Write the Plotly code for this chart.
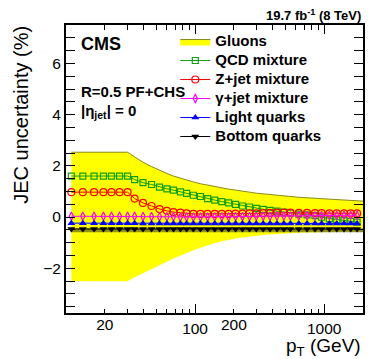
import plotly.graph_objects as go

# ---------------- data ----------------
pt = [11, 13.5, 16.5, 19.5, 22.5, 26, 30, 34, 39.5, 46, 53, 60.5, 68, 77, 86, 97,
      110, 125, 142, 161, 182, 206, 233, 264, 298, 337, 381, 431, 487, 548,
      636, 737, 849, 956, 1098, 1252, 1425, 1605, 1800]

qcd = [1.6, 1.6, 1.6, 1.6, 1.6, 1.6, 1.6, 1.46, 1.34, 1.27, 1.17, 1.10, 1.05, 0.98, 0.92, 0.85,
       0.80, 0.72, 0.66, 0.60, 0.55, 0.49, 0.43, 0.39, 0.34, 0.30, 0.26, 0.23, 0.19, 0.15,
       0.11, 0.08, 0.05, -0.01, -0.06, -0.10, -0.14, -0.17, -0.20]

zjet = [0.97, 0.97, 0.97, 0.97, 0.97, 0.97, 0.97, 0.72, 0.55, 0.43, 0.31, 0.24, 0.19, 0.17, 0.14, 0.12,
        0.12, 0.12, 0.12, 0.12, 0.12, 0.13, 0.13, 0.14, 0.14, 0.15, 0.16, 0.17, 0.17, 0.17,
        0.16, 0.16, 0.15, 0.15, 0.14, 0.14, 0.14, 0.14, 0.14]

gjet = [0.03, 0.03, 0.03, 0.03, 0.03, 0.03, 0.03, 0.03, 0.02, 0.02, 0.01, 0.01, 0.01, 0.0, 0.0, 0.0,
        0.0, 0.0, 0.01, 0.01, 0.01, 0.02, 0.02, 0.02, 0.03, 0.03, 0.03, 0.04, 0.04, 0.04,
        0.05, 0.05, 0.05, 0.06, 0.06, 0.06, 0.07, 0.07, 0.07]

light = [-0.24, -0.24, -0.24, -0.24, -0.24, -0.24, -0.24, -0.24, -0.25, -0.25, -0.25, -0.25, -0.25, -0.25, -0.25, -0.25,
         -0.25, -0.25, -0.25, -0.25, -0.25, -0.25, -0.25, -0.25, -0.25, -0.25, -0.25, -0.25, -0.25, -0.25,
         -0.25, -0.25, -0.25, -0.25, -0.25, -0.25, -0.25, -0.25, -0.25]

bottom = [-0.47] * 39

band_pt = [11, 30, 34, 39.5, 46, 53, 60.5, 68, 77, 86, 97, 110, 125, 142, 161, 182, 206, 233,
           264, 298, 337, 381, 431, 487, 548, 636, 737, 849, 956, 1098, 1252, 1425, 1605, 1800, 2000]
band_up = [2.53, 2.53, 2.35, 2.14, 1.97, 1.82, 1.70, 1.60, 1.51, 1.44, 1.37, 1.30, 1.24, 1.18, 1.13, 1.09,
           1.05, 1.02, 0.97, 0.93, 0.90, 0.87, 0.85, 0.82, 0.80, 0.77, 0.75, 0.73, 0.71, 0.69,
           0.67, 0.66, 0.64, 0.63, 0.62]
band_lo = [-2.51, -2.51, -2.35, -2.20, -2.05, -1.90, -1.75, -1.62, -1.50, -1.40, -1.30, -1.20, -1.10, -1.02,
           -0.95, -0.89, -0.84, -0.80, -0.76, -0.73, -0.70, -0.68, -0.66, -0.64, -0.63, -0.62, -0.61,
           -0.60, -0.60, -0.59, -0.59, -0.58, -0.58, -0.58, -0.58]
gluon_line = [-0.52] * 35

FONT = "Liberation Sans, Arial, Helvetica, sans-serif"


def lg(s):
    return "<span style='font-size:15px'><b>" + s + "</b></span>"


fig = go.Figure()

# gluon band
fig.add_trace(go.Scatter(x=band_pt, y=band_lo, mode="lines", line=dict(width=0, color="#ffff00"),
                         showlegend=False, hoverinfo="skip"))
fig.add_trace(go.Scatter(x=band_pt, y=band_up, mode="lines", fill="tonexty", fillcolor="#ffff00",
                         line=dict(width=1, color="#8a8a1a"), name=lg("Gluons")))
fig.add_trace(go.Scatter(x=band_pt, y=gluon_line, mode="lines",
                         line=dict(width=4, color="rgba(110,110,20,0.75)"), showlegend=False))

fig.add_trace(go.Scatter(x=pt, y=qcd, mode="lines+markers", name=lg("QCD mixture"),
                         line=dict(color="#11a011", width=1),
                         marker=dict(symbol="square-open", size=6, color="#11a011", line=dict(width=1.2))))
fig.add_trace(go.Scatter(x=pt, y=zjet, mode="lines+markers", name=lg("Z+jet mixture"),
                         line=dict(color="#ff0000", width=1),
                         marker=dict(symbol="circle-open", size=7, color="#ff0000", line=dict(width=1.2))))
fig.add_trace(go.Scatter(x=pt, y=gjet, mode="lines+markers", name=lg("\u03b3+jet mixture"),
                         line=dict(color="#ff00ff", width=1),
                         marker=dict(symbol="diamond-tall-open", size=6, color="#ff00ff", line=dict(width=1.2))))
fig.add_trace(go.Scatter(x=pt, y=light, mode="lines+markers", name=lg("Light quarks"),
                         line=dict(color="#0000ff", width=1),
                         marker=dict(symbol="triangle-up", size=7, color="#0000ff")))
fig.add_trace(go.Scatter(x=pt, y=bottom, mode="lines+markers", name=lg("Bottom quarks"),
                         line=dict(color="#000000", width=1),
                         marker=dict(symbol="triangle-down", size=7, color="#000000")))
# carrier for secondary label axis
fig.add_trace(go.Scatter(x=[], y=[], xaxis="x2", yaxis="y", showlegend=False))

minor_x = [20, 30, 40, 50, 60, 70, 80, 90, 200, 300, 400, 500, 600, 700, 800, 900, 2000]

fig.update_layout(
    width=368, height=359,
    margin=dict(l=66, r=3, t=25, b=46),
    paper_bgcolor="white", plot_bgcolor="white",
    font=dict(family=FONT, color="black"),
    showlegend=True,
    legend=dict(x=0.368, y=0.993, xanchor="left", yanchor="top", bgcolor="rgba(0,0,0,0)",
                font=dict(size=11.5, family=FONT), itemwidth=30, borderwidth=0,
                traceorder="normal", tracegroupgap=0),
    xaxis=dict(type="log", range=[1, 3.30103], showgrid=False, zeroline=False,
               showline=True, linecolor="black", linewidth=2, mirror="allticks",
               ticks="inside", ticklen=9, tickwidth=1, tickcolor="black",
               tickvals=[10, 100, 1000], ticktext=["", "100", "1000"],
               tickfont=dict(size=15.5, family=FONT),
               minor=dict(ticks="inside", ticklen=4.5, tickwidth=1, tickcolor="black",
                          tickvals=minor_x, showgrid=False)),
    xaxis2=dict(type="log", overlaying="x", matches="x", anchor="y", side="bottom",
                range=[1, 3.30103], showgrid=False, zeroline=False, showline=False,
                ticks="", tickvals=[20, 200], ticktext=["20", "200"],
                tickfont=dict(size=15.5, family=FONT)),
    yaxis=dict(range=[-3.75, 7.5], showgrid=False, zeroline=False,
               showline=True, linecolor="black", linewidth=2, mirror="allticks",
               ticks="inside", ticklen=9, tickwidth=1, tickcolor="black",
               tickmode="linear", tick0=0, dtick=2,
               tickfont=dict(size=15.5, family=FONT),
               minor=dict(ticks="inside", ticklen=5, tickwidth=1, tickcolor="black",
                          dtick=0.5, tick0=0, showgrid=False)),
)

ann = [
    dict(text="<b>CMS</b>", x=0.0435, y=0.934, font=dict(size=18), xanchor="left", yanchor="middle"),
    dict(text="<b>R=0.5 PF+CHS</b>", x=0.0435, y=0.769, font=dict(size=15), xanchor="left", yanchor="middle"),
    dict(text="<b>|\u03b7<sub>jet</sub>| = 0</b>", x=0.0435, y=0.70, font=dict(size=15), xanchor="left", yanchor="middle"),
    dict(text="<b>19.7 fb<sup>-1</sup> (8 TeV)</b>", x=1.0, y=1.035, font=dict(size=13), xanchor="right", yanchor="middle"),
    dict(text="p<sub>T</sub> (GeV)", x=1.0, y=-0.118, font=dict(size=19), xanchor="right", yanchor="middle"),
    dict(text="JEC uncertainty (%)", x=-0.150, y=0.690, font=dict(size=20), textangle=-90,
         xanchor="center", yanchor="middle"),
]
for a in ann:
    a.update(xref="paper", yref="paper", showarrow=False)
    a["font"].update(family=FONT, color="black")
fig.update_layout(annotations=ann)

fig.write_html("out.html")
